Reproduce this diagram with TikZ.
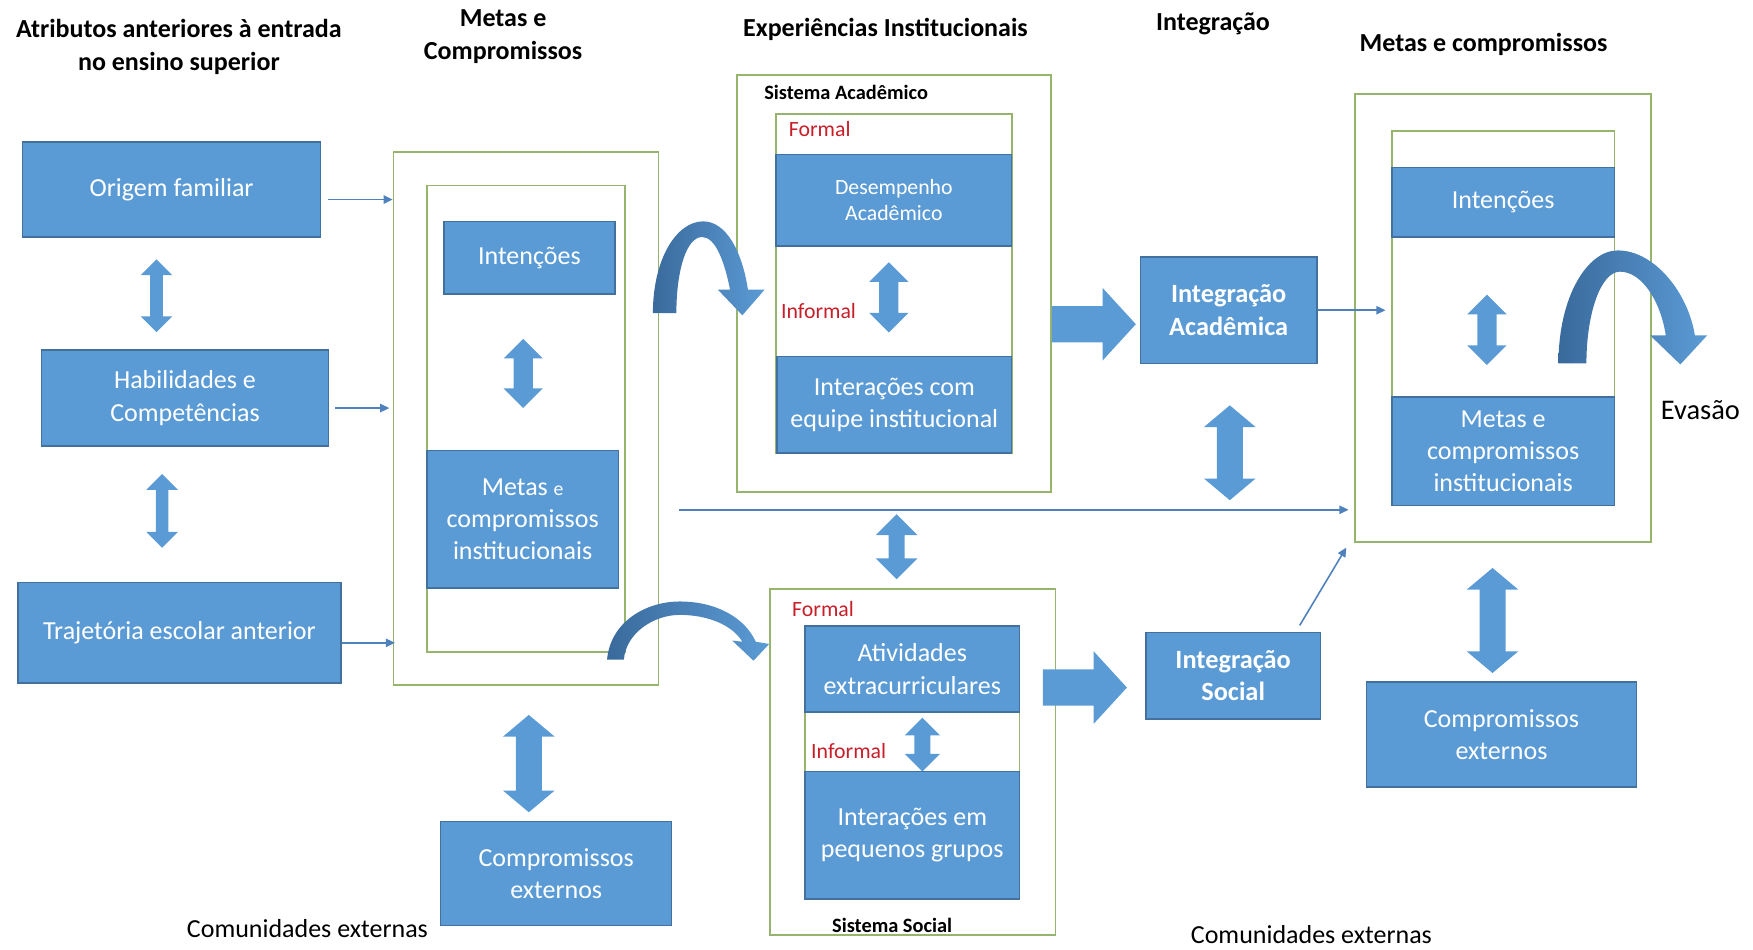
\documentclass[tikz,border=0pt]{standalone}
\usepackage{fontspec}
\setmainfont{Carlito}
\usepackage{tikz}
\usetikzlibrary{shapes.arrows, arrows.meta, positioning, fit, calc}
\definecolor{boxblue}{RGB}{91,155,213}
\definecolor{edgeblue}{RGB}{65,113,156}
\definecolor{curvedark}{RGB}{58,106,156}
\definecolor{framegreen}{RGB}{150,180,110}
\definecolor{linkblue}{RGB}{79,129,189}
\definecolor{tagred}{RGB}{200,30,40}

\begin{document}
\begin{tikzpicture}[x=0.01118cm, y=-0.01118cm,
  box/.style={draw=edgeblue, fill=boxblue, line width=0.4pt, inner sep=0pt, text=white, align=center, font={\fontsize{7.4}{9.2}\selectfont}},
  boldbox/.style={box, font={\fontsize{7.5}{9.2}\selectfont\bfseries}},
  frame/.style={draw=framegreen, line width=0.5pt, inner sep=0pt},
  title/.style={align=center, font={\fontsize{7.4}{9.4}\selectfont\bfseries}},
  tag/.style={text=tagred, inner sep=0pt, anchor=west, font={\fontsize{6.2}{7}\selectfont}},
  note/.style={inner sep=0pt, font={\fontsize{7.4}{9}\selectfont}},
  link/.style={draw=linkblue, line width=0.45pt, -{Triangle[length=2.6pt, width=2.4pt]}},
  updown/.style={double arrow, fill=boxblue, draw=none, rotate=90, inner xsep=0pt, inner ysep=2.55pt, minimum width=10.8pt, double arrow head extend=2.85pt, double arrow tip angle=90},
  bigupdown/.style={updown, inner ysep=3.5pt, minimum width=14.3pt, double arrow head extend=3.65pt, double arrow tip angle=100},
  push/.style={single arrow, fill=boxblue, draw=none, inner xsep=0pt, inner ysep=4.95pt, minimum height=23.9pt, minimum width=20.3pt, single arrow head extend=5.2pt, single arrow tip angle=95},
  curvedarrow/.style={left color=curvedark, right color=boxblue, draw=none}
]
  \useasboundingbox (0,0) rectangle (1568,849);

  % Column titles
  \node[title] (tattr) at (160,42) {Atributos anteriores à entrada\\no ensino superior};
  \node[title] (tmetas) at (450,33) {Metas e\\Compromissos};
  \node[title] (texp) at (792,26) {Experiências Institucionais};
  \node[title] (tint) at (1085,21) {Integração};
  \node[title] (tmetas2) at (1327,40) {Metas e compromissos};

  % Attributes before entry
  \node[box, minimum width=84.9pt, minimum height=27pt] (origem) at (153.5,169.5) {Origem familiar};
  \node[box, minimum width=81.8pt, minimum height=27.4pt] (habil) at (165.5,356) {Habilidades e\\Competências};
  \node[box, minimum width=91.9pt, minimum height=28.6pt] (traj) at (160.5,566) {Trajetória escolar anterior};
  \node[updown, minimum height=20.7pt, inner ysep=1.6pt, minimum width=8.6pt, double arrow head extend=2.7pt] (ud1) at (140,264.5) {};
  \node[updown, minimum height=21pt, inner ysep=1.6pt, minimum width=8.6pt, double arrow head extend=2.7pt] (ud2) at (145,457) {};

  % Goals and commitments (entry)
  \node[frame, fit={(352,136) (589,613)}] (mframe) {};
  \node[frame, fit={(382,166) (559,583)}] (minner) {};
  \node[box, minimum width=48.7pt, minimum height=20.7pt] (mint) at (473.5,230.5) {Intenções};
  \node[updown, minimum height=19.7pt] (ud3) at (468,334) {};
  \node[box, minimum width=54.4pt, minimum height=39.1pt] (mmetas) at (467.5,464.5) {Metas {\fontsize{5.6}{9}\selectfont e}\\compromissos\\institucionais};
  \node[bigupdown, minimum height=27.7pt] (ud4) at (473,683) {};
  \node[box, minimum width=65.8pt, minimum height=29.6pt] (mext) at (497.5,781.5) {Compromissos\\externos};
  \node[note] (com1) at (275,831) {Comunidades externas};

  \draw[link] ($(origem.east)+(6,9)$) -- ($(mframe.west |- origem.east)+(0,9)$);
  \draw[link] ($(habil.east)+(5,9)$) -- ($(mframe.west |- habil.east)+(-3,9)$);
  \draw[link] ($(traj.east)+(0,9)$) -- ($(mframe.west |- traj.east)+(2,9)$);

  % Academic system
  \node[frame, fit={(659,67) (940,440)}] (aframe) {};
  \node[inner sep=0pt, anchor=west, font={\fontsize{5.8}{7}\selectfont\bfseries}] (asis) at (683,83) {Sistema Acadêmico};
  \node[frame, fit={(694,102) (905,405)}] (ainner) {};
  \node[tag] (aformal) at (705,115) {Formal};
  \node[box, minimum width=67.1pt, minimum height=26.1pt, font={\fontsize{6.2}{7.4}\selectfont}] (adesemp) at (799.5,179) {Desempenho\\Acadêmico};
  \node[updown, minimum height=20pt] (ud5) at (795,266) {};
  \node[tag] (ainformal) at (698,278) {Informal};
  \node[box, minimum width=66.8pt, minimum height=27.4pt] (ainter) at (800,362) {Interações com\\equipe institucional};

  % Social system
  \node[updown, minimum height=18.5pt, inner ysep=2.05pt, minimum width=11.5pt, double arrow head extend=3.7pt] (ud6) at (802,489) {};
  \node[frame, fit={(689,527) (944,836)}] (sframe) {};
  \node[tag] (sformal) at (708,545) {Formal};
  \node[frame, fit={(720,560) (912,804)}] (sinner) {};
  \node[box, minimum width=61.1pt, minimum height=24.5pt] (satv) at (816,598.5) {Atividades\\extracurriculares};
  \node[tag] (sinformal) at (725,672) {Informal};
  \node[updown, minimum height=15.3pt, inner ysep=2.05pt, minimum width=9.6pt, double arrow head extend=2.75pt] (ud7) at (825,666) {};
  \node[box, minimum width=61.1pt, minimum height=36.3pt] (sint) at (816,747) {Interações em\\pequenos grupos};
  \node[inner sep=0pt, font={\fontsize{5.8}{7}\selectfont\bfseries}] (ssis) at (798,828) {Sistema Social};

  % Integration
  \node[push] (pacad) at (971,290) {};
  \node[boldbox, minimum width=50.3pt, minimum height=30.2pt] (intacad) at (1099,277.5) {Integração\\Acadêmica};
  \node[bigupdown, minimum height=27pt] (ud8) at (1100,405) {};
  \node[push] (psoc) at (963,615) {};
  \node[boldbox, minimum width=49.6pt, minimum height=24.5pt] (intsoc) at (1103,604.5) {Integração\\Social};

  % Goals and commitments (after)
  \node[frame, fit={(1212,84) (1477,485)}] (rframe) {};
  \node[frame, fit={(1245,117) (1444,452)}] (rinner) {};
  \node[box, minimum width=63.3pt, minimum height=19.7pt] (rint) at (1344.5,181) {Intenções};
  \node[updown, minimum height=20pt] (ud9) at (1330,295) {};
  \node[box, minimum width=63.3pt, minimum height=30.9pt] (rmetas) at (1344.5,403.5) {Metas e\\compromissos\\institucionais};
  \node[bigupdown, minimum height=29.9pt] (ud10) at (1335,555) {};
  \node[box, minimum width=77pt, minimum height=29.9pt] (rext) at (1343,657) {Compromissos\\externos};
  \node[note] (com2) at (1173,836) {Comunidades externas};
  \node[inner sep=0pt, font={\fontsize{8.1}{9}\selectfont}] (evasao) at (1521,367) {Evasão};

  \coordinate (lstart) at (607,456);
  \draw[link] (lstart) -- ($(rframe.west |- lstart)+(-5,0)$);
  \draw[link] (intacad.east) -- ($(rinner.west |- intacad.east)+(-5,0)$);
  \draw[link] ($(intsoc.north east)+(-19,-6)$) -- ($(rframe.south west)+(-7,4)$);

  % Curved arrows
  \shade[curvedarrow] (584,280) .. controls (584,232) and (605,198) .. (629,198) .. controls (650,198) and (664,226) .. (669,259) -- (684,259) -- (664,282) -- (642,259) -- (653,259) .. controls (648,234) and (640,212) .. (628,212) .. controls (614,212) and (605,242) .. (605,280) -- cycle;
  \shade[curvedarrow] (543,590) .. controls (546,556) and (578,538) .. (608,538) .. controls (640,538) and (666,552) .. (676,574) -- (688,576) -- (674,591) -- (655,573) -- (664,574) .. controls (655,559) and (633,550) .. (608,550) .. controls (585,550) and (560,566) .. (558,590) -- cycle;
  \shade[curvedarrow] (1394,325) .. controls (1394,265) and (1420,224) .. (1447,224) .. controls (1480,224) and (1510,262) .. (1516,300) -- (1527,300) -- (1503,326) -- (1476,300) -- (1490,300) .. controls (1485,268) and (1468,243) .. (1449,243) .. controls (1432,243) and (1419,280) .. (1419,325) -- cycle;
\end{tikzpicture}
\end{document}
